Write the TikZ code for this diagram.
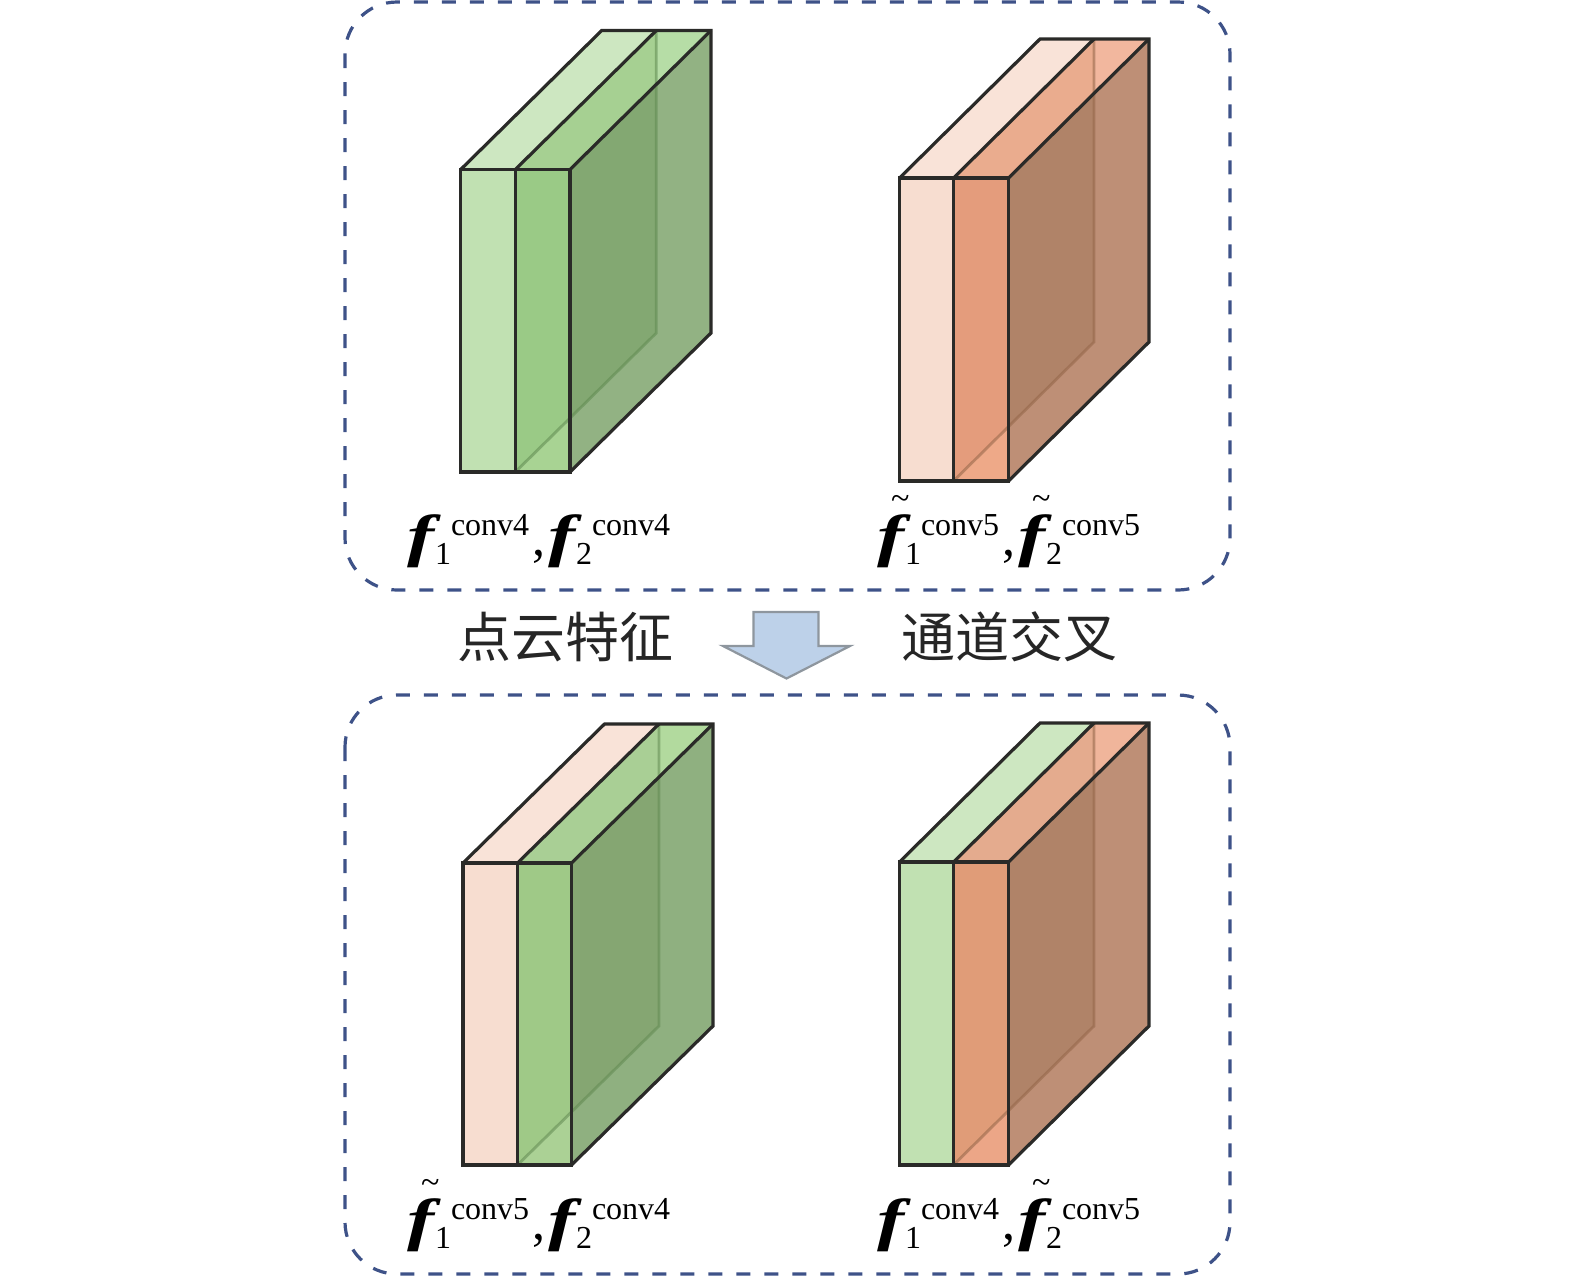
\documentclass[tikz,border=0pt]{standalone}
\usepackage{fontspec}
\setmainfont{Liberation Serif}
\newfontfamily\cjk{Noto Sans CJK SC}
\definecolor{frameblue}{HTML}{3E5288}
\definecolor{edgedark}{HTML}{2A2A28}
\definecolor{arrowfill}{HTML}{BDD1E9}
\definecolor{arrowedge}{HTML}{8E969E}
\definecolor{c1a}{HTML}{C1E1B2}\definecolor{c1b}{HTML}{CDE7C1}
\definecolor{p1a}{HTML}{F7DDD0}\definecolor{p1b}{HTML}{F9E3D8}
\definecolor{g2a}{HTML}{9ACA86}\definecolor{g2b}{HTML}{A8D393}\definecolor{g2c}{HTML}{A6D092}\definecolor{g2d}{HTML}{B6DDA6}\definecolor{g2e}{HTML}{92B283}\definecolor{g2f}{HTML}{83A872}\definecolor{g2g}{HTML}{5F8A50}
\definecolor{o2a}{HTML}{E49C7C}\definecolor{o2b}{HTML}{EEA988}\definecolor{o2c}{HTML}{EAAC8E}\definecolor{o2d}{HTML}{F2B79E}\definecolor{o2e}{HTML}{BE8F76}\definecolor{o2f}{HTML}{B08368}\definecolor{o2g}{HTML}{936548}
\definecolor{h2a}{HTML}{9FC987}\definecolor{h2b}{HTML}{ABD195}\definecolor{h2c}{HTML}{A9CF95}\definecolor{h2d}{HTML}{B2DA9E}\definecolor{h2e}{HTML}{8FB080}\definecolor{h2f}{HTML}{85A672}\definecolor{h2g}{HTML}{628A52}
\definecolor{q2a}{HTML}{E09C78}\definecolor{q2b}{HTML}{ECA687}\definecolor{q2c}{HTML}{E4AB8E}\definecolor{q2d}{HTML}{F0B59B}\definecolor{q2e}{HTML}{BE8F76}\definecolor{q2f}{HTML}{B08368}\definecolor{q2g}{HTML}{936548}
\tikzset{
  x=0.5pt,y=-0.5pt,
  framebox/.style={draw=frameblue,line width=1.6pt,dash pattern=on 7pt off 7pt,rounded corners=26pt},
  slabedge/.style={draw=edgedark,line width=1.6pt,line join=miter},
  hiddenedge/.style={line width=1.4pt,draw opacity=.55},
  lab/.style={anchor=base west,inner sep=0pt,outer sep=0pt},
  cjklab/.style={anchor=base,inner sep=0pt,font=\cjk\fontsize{27}{27}\selectfont,text=black!85},
}
\newcommand{\smallup}{\fontsize{16}{16}\selectfont\mdseries\upshape}
\newcommand{\fsym}[2]{\makebox[70.5pt][l]{%
  \rlap{\scalebox{1.4}[1]{\fontsize{29}{29}\selectfont\bfseries\itshape f}}%
  \rlap{\hspace{14pt}\raisebox{-4.5pt}{\smallup #1}}%
  \rlap{\hspace{22pt}\raisebox{10pt}{\smallup #2}}}}
\newcommand{\tsym}[2]{\rlap{\hspace{7pt}\raisebox{23pt}{\fontsize{17}{17}\selectfont\~{}}}\fsym{#1}{#2}}
\newcommand{\comsym}{\llap{\fontsize{26}{26}\selectfont ,\hspace{1.5pt}}}
\newcommand{\slabs}[7]{%
  \def\xa{#1}\def\xb{#2}\def\xc{#3}\def\yt{#4}\def\yb{#5}\def\dd{#6}\def\ee{#7}\slabsB}
\newcommand{\slabsB}[9]{%
  \def\ca{#1}\def\cb{#2}\def\cc{#3}\def\cd{#4}\def\ce{#5}\def\cf{#6}\def\cg{#7}\def\ch{#8}\def\ci{#9}\slabsC}
\newcommand{\slabsC}{%
  \pgfmathsetmacro\xbd{\xb+\dd}\pgfmathsetmacro\xcd{\xc+\dd}\pgfmathsetmacro\xad{\xa+\dd}
  \pgfmathsetmacro\yte{\yt-\ee}\pgfmathsetmacro\ybe{\yb-\ee}
  \pgfmathsetmacro\yi{\yt-(\xbd-\xc)*\ee/\dd}
  \pgfmathsetmacro\yj{\yb-(\xc-\xb)*\ee/\dd}
  \fill[\ca] (\xa,\yt) rectangle (\xb,\yb);
  \fill[\cb] (\xa,\yt) -- (\xb,\yt) -- (\xbd,\yte) -- (\xad,\yte) -- cycle;
  \fill[\cc] (\xb,\yt) rectangle (\xc,\yb);
  \fill[\cd] (\xb,\yb) -- (\xc,\yb) -- (\xc,\yj) -- cycle;
  \fill[\ce] (\xb,\yt) -- (\xc,\yt) -- (\xcd,\yte) -- (\xbd,\yte) -- cycle;
  \fill[\cf] (\xbd,\yte) -- (\xcd,\yte) -- (\xbd,\yi) -- cycle;
  \fill[\cg] (\xc,\yt) -- (\xcd,\yte) -- (\xcd,\ybe) -- (\xc,\yb) -- cycle;
  \fill[\ch] (\xc,\yt) -- (\xbd,\yi) -- (\xbd,\ybe) -- (\xc,\yj) -- cycle;
  \draw[hiddenedge,draw=\ci] (\xbd,\yte) -- (\xbd,\ybe) -- (\xb,\yb);
  \draw[slabedge] (\xa,\yt) rectangle (\xc,\yb);
  \draw[slabedge] (\xb,\yt) -- (\xb,\yb);
  \draw[slabedge] (\xa,\yt) -- (\xad,\yte) -- (\xcd,\yte) -- (\xcd,\ybe) -- (\xc,\yb);
  \draw[slabedge] (\xb,\yt) -- (\xbd,\yte);
  \draw[slabedge] (\xc,\yt) -- (\xcd,\yte);
}
\begin{document}
\begin{tikzpicture}
\useasboundingbox (0,0) rectangle (1575,1276);
% frames
\draw[framebox] (345,2) rectangle (1230,590);
\draw[framebox] (345,695) rectangle (1230,1274);
% slabs
\slabs{460.7}{515.3}{570}{169.5}{472}{141}{139}{c1a}{c1b}{g2a}{g2b}{g2c}{g2d}{g2e}{g2f}{g2g}
\slabs{899.5}{953.5}{1008.5}{178}{481}{140.5}{139}{p1a}{p1b}{o2a}{o2b}{o2c}{o2d}{o2e}{o2f}{o2g}
\slabs{463}{517.5}{571.5}{863}{1165}{141.5}{139}{p1a}{p1b}{h2a}{h2b}{h2c}{h2d}{h2e}{h2f}{h2g}
\slabs{899.5}{953.5}{1008.5}{862}{1165}{140.5}{139}{c1a}{c1b}{q2a}{q2b}{q2c}{q2d}{q2e}{q2f}{q2g}
% labels
\node[lab] (la) at (407,555) {\fsym{1}{conv4}\comsym\fsym{2}{conv4}};
\node[lab] (lb) at (877,555) {\tsym{1}{conv5}\comsym\tsym{2}{conv5}};
\node[lab] (lc) at (407,1239) {\tsym{1}{conv5}\comsym\fsym{2}{conv4}};
\node[lab] (ld) at (877,1239) {\fsym{1}{conv4}\comsym\tsym{2}{conv5}};
% centre
\node[cjklab] (ta) at (565,657) {点云特征};
\node[cjklab] (tb) at (1009,657) {通道交叉};
\draw[fill=arrowfill,draw=arrowedge,line width=1.1pt,line join=miter]
  (753.5,612) -- (818.5,612) -- (818.5,646) -- (850,646) -- (786.5,678.5) -- (723,646) -- (753.5,646) -- cycle;
\end{tikzpicture}
\end{document}
